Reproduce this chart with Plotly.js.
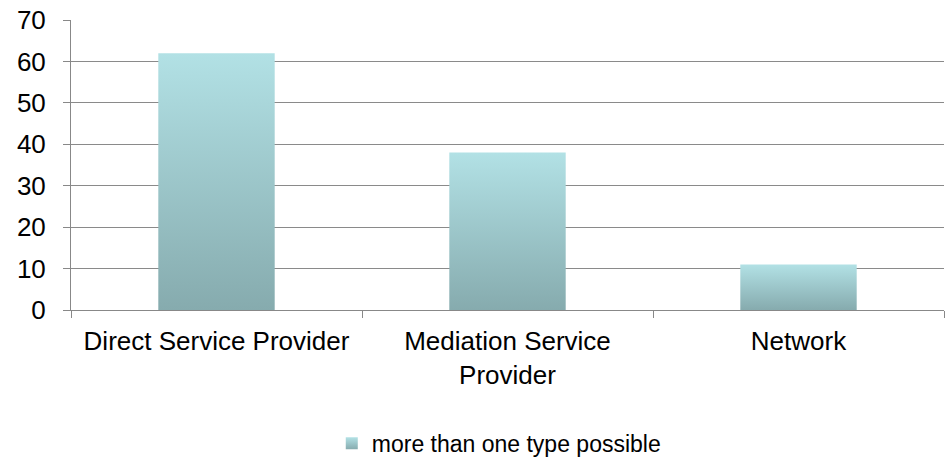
<!DOCTYPE html>
<html><head><meta charset="utf-8">
<script src="https://cdn.plot.ly/plotly-3.0.1.min.js"></script>
<style>html,body{margin:0;padding:0;background:#fff;}#chart{width:950px;height:465px;}</style>
</head><body><div id="chart"></div>
<script>
const categories = ["Direct Service Provider", "Mediation Service<br>Provider", "Network"];
const values = [62, 38, 11];
const seriesName = "more than one type possible";
const yTicks = [0, 10, 20, 30, 40, 50, 60, 70];

const trace = {
  type: "bar", x: categories, y: values, name: seriesName,
  marker: {color: "#9cc6ca", line: {width: 0}},
  showlegend: true, hoverinfo: "none"
};
const layout = {
  width: 950, height: 465,
  margin: {l: 71, r: 6, t: 20, b: 155, autoexpand: false},
  paper_bgcolor: "#fff", plot_bgcolor: "#fff",
  font: {family: "Liberation Sans, Arial, sans-serif", size: 26, color: "#000"},
  bargap: 0.6,
  xaxis: {type: "category", showline: true, linecolor: "#888", linewidth: 1,
    ticks: "outside", tickson: "boundaries", ticklen: 7, tickcolor: "#888",
    ticklabelstandoff: 8, automargin: false,
    showgrid: false, tickfont: {size: 26}},
  yaxis: {range: [0, 70], tickvals: yTicks, showline: true, linecolor: "#888", linewidth: 1,
    ticks: "outside", ticklen: 7, tickcolor: "#888", showgrid: true, gridcolor: "#8a8a8a", gridwidth: 1,
    ticklabelstandoff: 12, automargin: false,
    zeroline: false, tickfont: {size: 26}},
  legend: {orientation: "h", x: 0.49, xanchor: "center", y: -0.46, yanchor: "middle",
    font: {size: 23}, itemwidth: 30},
  showlegend: true
};
Plotly.newPlot("chart", [trace], layout, {staticPlot: true}).then(function(gd){
  const svg = gd.querySelector(".main-svg");
  const ns = "http://www.w3.org/2000/svg";
  let defs = svg.querySelector("defs");
  const lg = document.createElementNS(ns, "linearGradient");
  lg.setAttribute("id", "barGrad");
  lg.setAttribute("x1", "0"); lg.setAttribute("y1", "0");
  lg.setAttribute("x2", "0"); lg.setAttribute("y2", "1");
  [["0", "#b2e1e5"], ["1", "#86abae"]].forEach(function(s){
    const st = document.createElementNS(ns, "stop");
    st.setAttribute("offset", s[0]); st.setAttribute("stop-color", s[1]);
    lg.appendChild(st);
  });
  defs.appendChild(lg);
  gd.querySelectorAll(".bars .point path").forEach(function(p){ p.style.fill = "url(#barGrad)"; });
  gd.querySelectorAll(".legend .legendpoints path").forEach(function(p){ p.style.fill = "url(#barGrad)"; });
});
</script></body></html>
